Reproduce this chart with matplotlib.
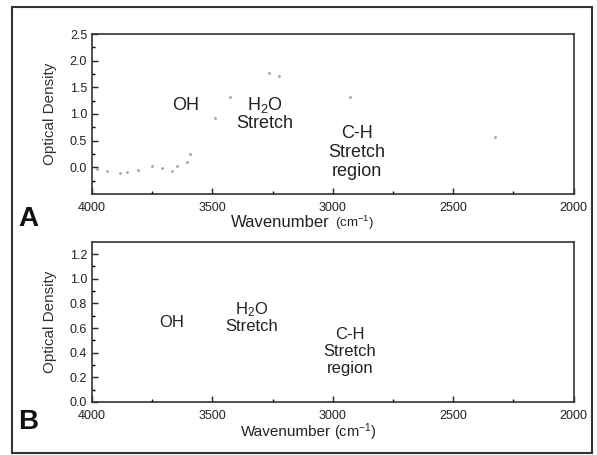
import matplotlib
matplotlib.use("Agg")
import matplotlib.pyplot as plt
from matplotlib.patches import Rectangle

plt.rcParams['font.family'] = ['Liberation Sans', 'DejaVu Sans']

# panel A: faint scanned spectrum points
wn_a = [3979, 3938, 3884, 3855, 3809, 3751, 3710, 3668, 3647, 3606, 3593,
        3490, 3427, 3266, 3224, 2929, 2328]
od_a = [-0.04, -0.07, -0.11, -0.09, -0.06, 0.02, -0.02, -0.07, 0.02, 0.09, 0.24,
        0.93, 1.31, 1.77, 1.72, 1.31, 0.56]

xticks = [4000, 3500, 3000, 2500, 2000]
yticks_a = [0.0, 0.5, 1.0, 1.5, 2.0, 2.5]
yticks_b = [0.0, 0.2, 0.4, 0.6, 0.8, 1.0, 1.2]

W, H = 597, 455
fig = plt.figure(figsize=(W / 100, H / 100), dpi=100)

# frame round the whole figure
fig.patches.append(Rectangle((12/W, 2/H), 580/W, 446/H, transform=fig.transFigure,
                             fill=False, edgecolor='#333333', linewidth=1.5))

axA = fig.add_axes([0.154, 0.574, 0.807, 0.351])
axB = fig.add_axes([0.154, 0.1165, 0.807, 0.352])


def style(ax, yticks, ylim, minor):
    ax.set_xlim(4000, 2000)
    ax.set_ylim(*ylim)
    ax.set_xticks(xticks)
    ax.set_xticks([3750, 3250, 2750, 2250], minor=True)
    ax.set_yticks(yticks)
    ax.set_yticks(minor, minor=True)
    ax.set_yticklabels(['%.1f' % v for v in yticks])
    ax.tick_params(direction='in', length=4, width=1, labelsize=9, colors='#222222')
    ax.tick_params(axis='x', pad=6)
    ax.tick_params(which='minor', direction='in', length=2, width=1)
    for s in ax.spines.values():
        s.set_color('#333333')
        s.set_linewidth(1.2)
    ax.set_ylabel('Optical Density', fontsize=11, color='#333333', labelpad=9)


style(axA, yticks_a, (-0.5, 2.5), [-0.25, 0.25, 0.75, 1.25, 1.75, 2.25])
style(axB, yticks_b, (0.0, 1.3), [0.1, 0.3, 0.5, 0.7, 0.9, 1.1])

axA.scatter(wn_a, od_a, s=4, color='#a0a0a0', linewidths=0)

tkA = dict(fontsize=13, color='#222222', ha='center', va='center')
tkB = dict(fontsize=12, color='#222222', ha='center', va='center')
axA.text(3610, 1.16, 'OH', **tkA)
axA.text(3282, 1.0, 'H$\\mathregular{_2}$O\nStretch', linespacing=1.0, **tkA)
axA.text(2900, 0.28, 'C-H\nStretch\nregion', linespacing=1.15, **tkA)

axB.text(3668, 0.645, 'OH', **tkB)
axB.text(3336, 0.69, 'H$\\mathregular{_2}$O\nStretch', linespacing=0.95, **tkB)
axB.text(2929, 0.41, 'C-H\nStretch\nregion', linespacing=1.15, **tkB)

# x labels: "Wavenumber" with its unit
fig.text(280/W, 1 - 222/H, 'Wavenumber', fontsize=12, ha='center', va='center', color='#222222')
fig.text(335/W, 1 - 223/H, '(cm$\\mathregular{^{-1}}$)', fontsize=9.5, ha='left',
         va='center', color='#222222')
fig.text(286/W, 1 - 432/H, 'Wavenumber', fontsize=11, ha='center', va='center', color='#222222')
fig.text(334/W, 1 - 432/H, '(cm$\\mathregular{^{-1}}$)', fontsize=10.5, ha='left',
         va='center', color='#222222')

fig.text(28/W, 1 - 219/H, 'A', fontsize=20, fontweight='bold', ha='center', va='center',
         color='#111111')
fig.text(28/W, 1 - 422/H, 'B', fontsize=20, fontweight='bold', ha='center', va='center',
         color='#111111')

fig.savefig('out.png', dpi=100)
